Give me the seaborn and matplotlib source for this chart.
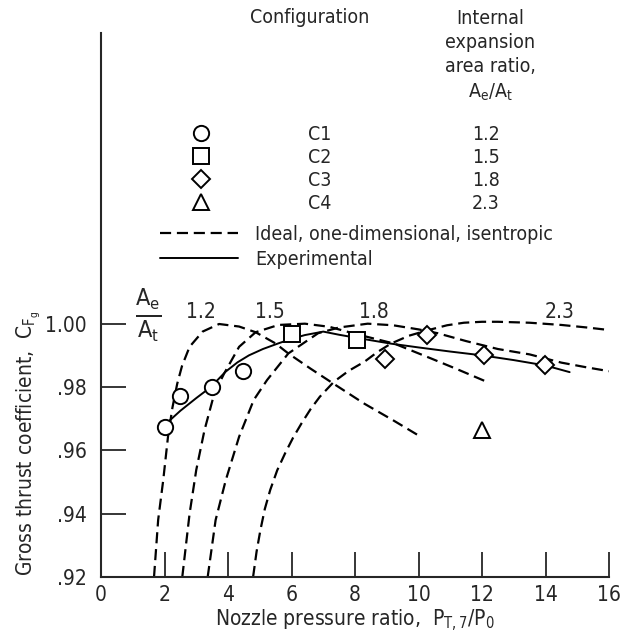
import numpy as np
import pandas as pd
import seaborn as sns
import matplotlib
matplotlib.use("Agg")
import matplotlib.pyplot as plt
from matplotlib.lines import Line2D

# ideal, one-dimensional, isentropic curves
ideal_12_x = [1.67, 1.8, 1.96, 2.11, 2.25, 2.4, 2.55, 2.79, 3.2, 3.72, 4.35, 4.87, 5.49, 5.9,
              6.6, 7.3, 8.3, 9.2, 10.0]
ideal_12_y = [0.920, 0.938, 0.9506, 0.9643, 0.9735, 0.981, 0.9866, 0.9927, 0.9975, 0.9999, 0.9991,
              0.9973, 0.9938, 0.9906, 0.9858, 0.9812, 0.9747, 0.9695, 0.9647]

ideal_15_x = [2.56, 2.79, 3.0, 3.26, 3.57, 3.88, 4.35, 4.87, 5.59, 6.42, 7.2, 8.0, 8.6, 9.24,
              10.4, 11.2, 12.16]
ideal_15_y = [0.920, 0.940, 0.9538, 0.9664, 0.978, 0.9843, 0.9927, 0.9973, 0.9996, 1.000, 0.999,
              0.9968, 0.9953, 0.9937, 0.989, 0.9857, 0.9816]

ideal_18_x = [3.36, 3.61, 3.93, 4.35, 4.81, 5.23, 5.9, 6.84, 7.5, 8.4, 9.2, 10.0, 10.6, 11.5,
              12.5, 13.5, 14.5, 15.3, 16.0]
ideal_18_y = [0.920, 0.938, 0.9506, 0.9643, 0.9759, 0.9822, 0.9906, 0.997, 0.9988, 1.000, 0.9995,
              0.9982, 0.997, 0.9945, 0.992, 0.9903, 0.9877, 0.9862, 0.985]

ideal_23_x = [4.79, 4.9, 5.02, 5.16, 5.33, 5.55, 5.8, 6.05, 6.32, 6.6, 6.89, 7.34, 7.8, 8.3,
              8.7, 9.13, 9.7, 10.28, 10.9, 11.43, 12.0, 12.5, 13.5, 14.5, 15.3, 16.0]
ideal_23_y = [0.920, 0.928, 0.9348, 0.9415, 0.9475, 0.9537, 0.9591, 0.964, 0.9686, 0.973,
              0.9769, 0.9817, 0.9851, 0.988, 0.991, 0.9937, 0.9962, 0.9979, 0.9995, 1.0003,
              1.0006, 1.0006, 1.0003, 0.9996, 0.9988, 0.998]

# experimental fairing
exp_x = [2.06, 2.5, 3.0, 3.46, 3.92, 4.3, 4.66, 5.1, 5.59, 6.0, 6.42, 7.0, 7.5, 8.07, 9.13,
         10.0, 11.0, 12.0, 13.0, 14.0, 14.76]
exp_y = [0.9685, 0.9725, 0.9765, 0.980, 0.9848, 0.9878, 0.990, 0.992, 0.9938, 0.9952, 0.9964,
         0.9975, 0.9965, 0.9955, 0.9937, 0.9925, 0.9912, 0.990, 0.9885, 0.9868, 0.9847]

# measured points per configuration
c1_x = [2.03, 2.5, 3.51, 4.48]
c1_y = [0.9673, 0.9771, 0.980, 0.9852]
c2_x = [6.03, 8.07]
c2_y = [0.9966, 0.995]
c3_x = [8.96, 10.28, 12.05, 13.98]
c3_y = [0.989, 0.9965, 0.990, 0.987]
c4_x = [12.0]
c4_y = [0.9663]

configs = ["C1", "C2", "C3", "C4"]
ratios = ["1.2", "1.5", "1.8", "2.3"]
markers = ["o", "s", "D", "^"]
marker_size = [11, 11, 9.5, 11]
curve_label_x = [3.14, 5.33, 8.6, 14.45]

sns.set_style("ticks")
plt.rcParams["font.family"] = ["DejaVu Sans"]
plt.rcParams["font.stretch"] = "condensed"
plt.rcParams["mathtext.fontset"] = "custom"
plt.rcParams["mathtext.rm"] = "DejaVu Sans:stretch=condensed"
plt.rcParams["mathtext.it"] = "DejaVu Sans:stretch=condensed"
plt.rcParams["mathtext.bf"] = "DejaVu Sans:stretch=condensed:bold"

fig = plt.figure(figsize=(6.27, 6.35), dpi=100)
ax = fig.add_axes([101 / 627, 58 / 635, 508 / 627, 544 / 635])

dash = (0, (5, 2.6))
ideal = [(ideal_12_x, ideal_12_y), (ideal_15_x, ideal_15_y),
         (ideal_18_x, ideal_18_y), (ideal_23_x, ideal_23_y)]
for xs, ys in ideal:
    sns.lineplot(x=xs, y=ys, sort=False, color="black", lw=1.6,
                 linestyle=dash, ax=ax)

sns.lineplot(x=exp_x, y=exp_y, sort=False, color="black", lw=1.4, ax=ax)

pts = [(c1_x, c1_y), (c2_x, c2_y), (c3_x, c3_y), (c4_x, c4_y)]
for (xs, ys), m, ms in zip(pts, markers, marker_size):
    ax.plot(xs, ys, ls="none", marker=m, ms=ms, mfc="white",
            mec="black", mew=1.4, zorder=5)

# curve labels
for lab, lx in zip(ratios, curve_label_x):
    ax.text(lx, 1.0037, lab, ha="center", va="center", fontsize=15)
ax.text(1.5, 1.0025, r"$\frac{\mathrm{A_e}}{\mathrm{A_t}}$", ha="center", va="center",
        fontsize=24)

ax.set_xlim(0, 16)
ax.set_ylim(0.92, 1.0918)
ax.set_xticks(range(0, 17, 2))
ax.set_yticks([0.92, 0.94, 0.96, 0.98, 1.00])
ax.set_yticklabels([".92", ".94", ".96", ".98", "1.00"])
ax.tick_params(direction="in", length=18, width=1.3, labelsize=15, pad=6)
ax.tick_params(axis="y", pad=10)
sns.despine(ax=ax)
for s in ["left", "bottom"]:
    ax.spines[s].set_linewidth(1.5)

ax.set_xlabel(r"Nozzle pressure ratio,  $\mathrm{P_{T,7}/P_0}$", fontsize=15, labelpad=2)
ax.set_ylabel(r"Gross thrust coefficient,  $\mathrm{C_{F_g}}$", fontsize=15, labelpad=4)
ax.yaxis.set_label_coords(-0.115, 0.245)

# key: markers / configuration / area ratio
mk_handles = [Line2D([], [], ls="none", marker=m, ms=ms, mfc="white", mec="black", mew=1.4)
              for m, ms in zip(markers, marker_size)]
leg1 = ax.legend(mk_handles, configs, loc="upper left", bbox_to_anchor=(0.178, 0.831),
                 frameon=False, fontsize=14, handlelength=1, handletextpad=5.0,
                 labelspacing=0.2, borderpad=0, borderaxespad=0)
ax.add_artist(leg1)
blank = [Line2D([], [], ls="none") for _ in ratios]
leg2 = ax.legend(blank, ratios, loc="upper left", bbox_to_anchor=(0.73, 0.831),
                 frameon=False, fontsize=14, handlelength=0, handletextpad=0,
                 labelspacing=0.2, borderpad=0, borderaxespad=0)
ax.add_artist(leg2)
ln_handles = [Line2D([], [], color="black", lw=1.6, linestyle=dash),
              Line2D([], [], color="black", lw=1.4)]
ax.legend(ln_handles, ["Ideal, one-dimensional, isentropic", "Experimental"],
          loc="upper left", bbox_to_anchor=(0.116, 0.647), frameon=False,
          fontsize=14, handlelength=4.0, handletextpad=0.9, labelspacing=0.29,
          borderpad=0, borderaxespad=0)

ax.text(0.411, 1.028, "Configuration", transform=ax.transAxes, ha="center",
        va="center", fontsize=14)
ax.text(0.766, 1.045, "Internal\nexpansion\narea ratio,\n$\\mathrm{A_e/A_t}$",
        transform=ax.transAxes, ha="center", va="top", fontsize=14, linespacing=1.36)

fig.savefig("out.png", dpi=100)
